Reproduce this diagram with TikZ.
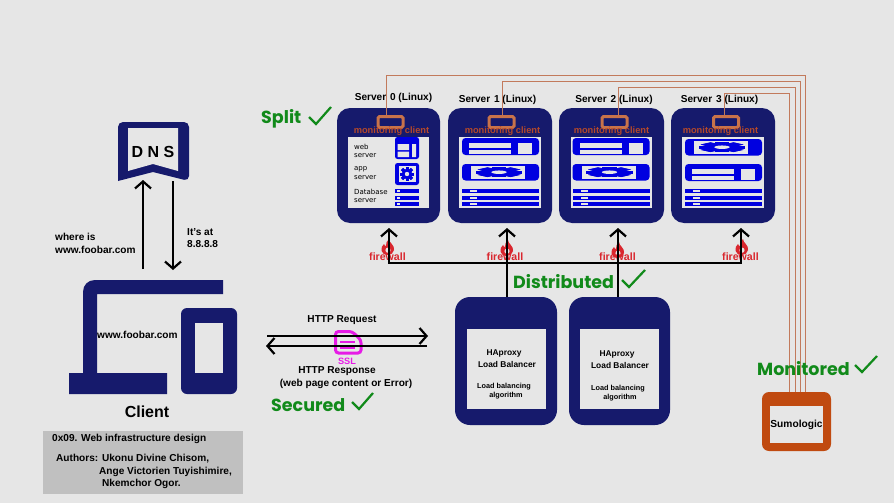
\documentclass[tikz,border=0pt]{standalone}
\usepackage{fontspec}
\usetikzlibrary{arrows.meta}
\setmainfont{Liberation Sans}
\newcommand{\medf}{\bfseries}
\newfontfamily\headf{Poppins}
\newfontfamily\smallf{DejaVu Sans}
\definecolor{bgc}{HTML}{E6E6E6}
\definecolor{navy}{HTML}{161A6C}
\definecolor{srvblue}{HTML}{0000E0}
\definecolor{wirec}{HTML}{C27A5C}
\definecolor{monc}{HTML}{C8734A}
\definecolor{mont}{HTML}{B4482A}
\definecolor{sumo}{HTML}{C04A10}
\definecolor{okgreen}{HTML}{118A1A}
\definecolor{fwred}{HTML}{D9262E}
\definecolor{sslm}{HTML}{E61AE6}
\definecolor{capg}{HTML}{C0C0C0}
\tikzset{
  navybox/.style={fill=navy,rounded corners=13pt,inner sep=0},
  panel/.style={fill=bgc,inner sep=0},
  monbox/.style={draw=monc,line width=3pt,rounded corners=1.5pt,inner sep=0,minimum width=25pt,minimum height=11pt},
  wire/.style={draw=wirec,line width=0.9pt},
  txt/.style={font=\medf\fontsize{10.1}{12}\selectfont,text=black,inner sep=0},
  small/.style={font=\medf\fontsize{8.4}{10}\selectfont,text=black,inner sep=0},
  smaller/.style={font=\medf\fontsize{7.3}{9}\selectfont,text=black,inner sep=0},
  tiny/.style={font=\smallf\fontsize{7}{9}\selectfont,text=black,inner sep=0,anchor=west},
  mont/.style={font=\medf\fontsize{9.3}{11}\selectfont,text=mont,inner sep=0},
  fw/.style={font=\medf\fontsize{10.6}{12}\selectfont,text=fwred,inner sep=0},
  head/.style={font=\headf\bfseries\fontsize{17.5}{19}\selectfont,text=okgreen,inner sep=0,anchor=west},
  tick/.style={draw=okgreen,line width=2.2pt},
  heavy/.style={draw=black,line width=2.2pt},
  arrowed/.style={heavy,-{Straight Barb[length=7pt,width=16pt,line width=2.2pt]}},
}
\newcommand{\rackA}[1]{%
  \fill[srvblue,rounded corners=3.5pt] (462,#1) rectangle (539,#1+17);
  \fill[bgc] (469,#1+5) rectangle (511,#1+10);
  \fill[bgc] (469,#1+12) rectangle (511,#1+15.5);
  \fill[bgc] (518,#1+5) rectangle (532,#1+15.5);
}
\newcommand{\rackB}[1]{%
  \fill[srvblue,rounded corners=3.5pt] (462,#1) rectangle (539,#1+16.5);
  \fill[bgc] (471,#1+2) rectangle (525,#1+14.5);
  \begin{scope}[shift={(499,#1+8.2)},xscale=3.2,yscale=0.72]
    \foreach \a in {0,45,...,315}{\fill[srvblue,rotate=\a] (-2.2,-7.3) rectangle (2.2,7.3);}
    \fill[srvblue] (0,0) circle (5.8);
    \fill[bgc] (0,0) circle (2.4);
  \end{scope}
}
\newcommand{\disks}[2]{% left, dot-left
  \foreach \yy in {189,196,202}{
    \fill[srvblue] (#1,\yy) rectangle (#1+77,\yy+4.4);
    \fill[bgc] (#2,\yy+1) rectangle (#2+7,\yy+3.2);
  }
}
\newcommand{\flame}[1]{%
  \begin{scope}[shift={(#1)}]
    \fill[fwred] (0,8) .. controls (-8,8) and (-8,0) .. (-4,-3)
      .. controls (-3.5,-1.5) and (-3,-1) .. (-2,-1)
      .. controls (-2.5,-4) and (-1,-6) .. (1,-8)
      .. controls (1,-4) and (7,-2) .. (6,3)
      .. controls (5.5,6) and (3,8) .. (0,8) -- cycle;
    \fill[bgc] (0,3.2) circle (2.6);
  \end{scope}
}
\begin{document}
\begin{tikzpicture}[x=1pt,y=-1pt]
\useasboundingbox (0,0) rectangle (894,503);
\fill[bgc] (0,0) rectangle (894,503);

% servers
\node[navybox,minimum width=103pt,minimum height=115pt] (srv0) at (388.5,165.5) {};
\node[navybox,minimum width=104pt,minimum height=115pt] (srv1) at (500,165.5) {};
\node[navybox,minimum width=105pt,minimum height=115pt] (srv2) at (611.5,165.5) {};
\node[navybox,minimum width=104pt,minimum height=115pt] (srv3) at (723,165.5) {};
\node[panel,minimum width=81pt,minimum height=71pt] (pan0) at (388.5,172.5) {};
\node[panel,minimum width=82pt,minimum height=71pt] (pan1) at (500.3,172.5) {};
\node[panel,minimum width=81pt,minimum height=71pt] (pan2) at (611.5,172.5) {};
\node[panel,minimum width=82pt,minimum height=71pt] (pan3) at (723,172.5) {};

\node[txt] (t0) at (393.5,98) {Server\hspace{1pt} 0 (Linux)};
\node[txt] (t1) at (497.5,100) {Server\hspace{1pt} 1 (Linux)};
\node[txt] (t2) at (614,100) {Server\hspace{1pt} 2 (Linux)};
\node[txt] (t3) at (719.5,100) {Server\hspace{1pt} 3 (Linux)};

% server 0 contents
\node[tiny] (a1) at (354,147) {web};
\node[tiny] (a2) at (354,155.5) {server};
\node[tiny] (a3) at (354,169) {app};
\node[tiny] (a4) at (354,178) {server};
\node[tiny] (a5) at (354,192) {Database};
\node[tiny] (a6) at (354,201) {server};
\fill[srvblue,rounded corners=2.5pt] (395,137) rectangle (419,159);
\fill[bgc] (397.5,144) rectangle (409,150) (397.5,151.5) rectangle (409,157) (412,144) rectangle (416,157);
\fill[srvblue,rounded corners=2.5pt] (395,163) rectangle (419,185);
\fill[bgc] (398.5,166) rectangle (416,182);
\begin{scope}[shift={(407,174)}]
  \foreach \a in {0,45,...,315}{\fill[srvblue,rotate=\a] (-1.5,-7) rectangle (1.5,7);}
  \fill[srvblue] (0,0) circle (5.3);
  \fill[bgc] (0,0) circle (2.2);
\end{scope}
\foreach \yy in {189,196,202}{
  \fill[srvblue] (395,\yy) rectangle (419,\yy+4.4);
  \fill[bgc] (397,\yy+1.2) rectangle (399.5,\yy+3.2);
}

% server 1-3 contents
\rackA{138}\rackB{164}\disks{462}{470}
\begin{scope}[shift={(110.5,0)}]\rackA{138}\rackB{164}\disks{462}{470}\end{scope}
\begin{scope}[shift={(223,0)}]\rackB{139}\rackA{164}\disks{462}{470}\end{scope}

% monitoring clients
\node[monbox] (mon0) at (390.5,122) {};
\node[monbox] (mon1) at (501.5,122) {};
\node[monbox] (mon2) at (614.5,122) {};
\node[monbox] (mon3) at (726,122) {};
\node[mont] (mc0) at (391.5,131.5) {monitoring client};
\node[mont] (mc1) at (502.5,131.5) {monitoring client};
\node[mont] (mc2) at (611.5,131.5) {monitoring client};
\node[mont] (mc3) at (720.5,131.5) {monitoring client};

% sumologic
\node[fill=sumo,rounded corners=7pt,inner sep=0,minimum width=69pt,minimum height=59pt] (sumo) at (796.5,421.5) {};
\node[panel,minimum width=53pt,minimum height=37pt,font=\medf\fontsize{10.2}{12}\selectfont,text=black] (sumolab) at (796.5,424.5) {Sumologic};

% monitoring wires
\coordinate (tap0) at (386,115);
\coordinate (tap1) at (502,115);
\coordinate (tap2) at (618,115);
\coordinate (tap3) at (724,115);
\coordinate (top0) at (805,75);
\coordinate (top1) at (800.5,81);
\coordinate (top2) at (795,87);
\coordinate (top3) at (789,93);
\coordinate (sum0) at (805,392);
\coordinate (sum1) at (800.5,392);
\coordinate (sum2) at (795,392);
\coordinate (sum3) at (789,392);
\foreach \i in {0,1,2,3}{\draw[wire] (tap\i) |- (top\i) -- (sum\i);}

% load balancers
\node[navybox,rounded corners=15pt,minimum width=102pt,minimum height=128pt] (lb1) at (506,361) {};
\node[navybox,rounded corners=15pt,minimum width=101pt,minimum height=128pt] (lb2) at (619.5,361) {};
\node[panel,minimum width=79pt,minimum height=80pt] (lp1) at (506.5,369) {};
\node[panel,minimum width=79pt,minimum height=80pt] (lp2) at (619.5,369) {};
\node[small] (h1) at (504,353) {HAproxy};
\node[small] (b1) at (507,364) {Load Balancer};
\node[smaller] (c1) at (504,387) {Load balancing};
\node[smaller] (d1) at (506,396) {algorithm};
\node[small] (h2) at (617,354) {HAproxy};
\node[small] (b2) at (620,365) {Load Balancer};
\node[smaller] (c2) at (618,389) {Load balancing};
\node[smaller] (d2) at (620,398) {algorithm};

% firewalls
\flame{388,247}\flame{507,248}\flame{618,250}\flame{742,247}
\node[fw] (f0) at (387.5,257) {firewall};
\node[fw] (f1) at (505,257) {firewall};
\node[fw] (f2) at (617.5,257) {firewall};
\node[fw] (f3) at (740.5,257) {firewall};
\coordinate (fw0) at (389,263);
\coordinate (fw1) at (507,263);
\coordinate (fw2) at (618,263);
\coordinate (fw3) at (741,263);
\coordinate (ar0) at (389,228);
\coordinate (ar1) at (507,228);
\coordinate (ar2) at (618,228);
\coordinate (ar3) at (741,228);
\foreach \i in {0,1,2,3}{\draw[arrowed] (fw\i) -- (ar\i);}
\draw[heavy,line cap=rect] (fw0) -- (fw3);
\draw[heavy] (fw1) -- (fw1 |- lb1.north);
\draw[heavy] (fw2) -- (fw2 |- lb2.north);

% headings
\node[head] (hsplit) at (261,118.5) {Split};
\draw[tick] (309,117) -- (316,124) -- (331,107);
\node[head] (hdist) at (513,281.5) {Distributed};
\draw[tick] (622,280) -- (629,287) -- (645,270);
\node[head] (hsec) at (271,405.5) {Secured};
\draw[tick] (352,402) -- (359,409) -- (373,393);
\node[head] (hmon) at (757,368.5) {Monitored};
\draw[tick] (855,365) -- (862,372) -- (877,356);

% DNS
\fill[navy,rounded corners=5pt] (118,181) -- (118,122) -- (189,122) -- (189,181) [sharp corners] -- (153,172) -- cycle;
\fill[bgc] (128,128) -- (178,128) -- (178,171) -- (153,164) -- (128,171) -- cycle;
\node[font=\medf\fontsize{16}{20}\selectfont,inner sep=0] (dns) at (153,152) {D N S};
\coordinate (upa) at (143,269);
\coordinate (upb) at (143,180);
\coordinate (dna) at (173,181);
\coordinate (dnb) at (173,270);
\draw[arrowed,line width=1.8pt] (upa) -- (upb);
\draw[arrowed,line width=1.8pt] (dna) -- (dnb);
\node[txt,anchor=west] (q1) at (55,237) {where is};
\node[txt,anchor=west] (q2) at (55,249.5) {www.foobar.com};
\node[txt,anchor=west] (r1) at (187,232) {It's at};
\node[txt,anchor=west] (r2) at (187,244) {8.8.8.8};

% client
\fill[navy] (223,280) -- (95,280) .. controls (88,280) and (83,285) .. (83,292) -- (83,373) -- (69,373) -- (69,394) -- (167,394) -- (167,373) -- (97,373) -- (97,294) -- (223,294) -- cycle;
\fill[navy,rounded corners=6pt] (181,308) rectangle (237,394);
\fill[bgc] (195,323) rectangle (223,373);
\node[txt,anchor=west] (url) at (97,335) {www.foobar.com};
\node[font=\medf\fontsize{16}{19}\selectfont,inner sep=0] (client) at (147,412) {Client};

% caption
\node[fill=capg,minimum width=200pt,minimum height=63pt,inner sep=0] (cap) at (143,462.5) {};
\node[txt,anchor=west] (c0) at (52,439) {0x09. Web infrastructure design};
\node[txt,anchor=west] (ca1) at (56,459) {Authors: Ukonu Divine Chisom,};
\node[txt,anchor=west] (ca2) at (99,472) {Ange Victorien Tuyishimire,};
\node[txt,anchor=west] (ca3) at (102,484) {Nkemchor Ogor.};

% HTTP
\draw[sslm,line width=3pt,rounded corners=3pt] (335.5,331.5) -- (352,331.5) -- (361,340) -- (361,353) -- (335.5,353) -- cycle;
\draw[sslm,line width=2pt] (340,342) -- (355,342) (340,348) -- (355,348);
\node[font=\medf\fontsize{9.2}{11}\selectfont,text=sslm,inner sep=0] (ssl) at (347,361.5) {SSL};
\coordinate (rqa) at (267,336);
\coordinate (rqb) at (428,336);
\coordinate (rsa) at (427,346);
\coordinate (rsb) at (266,346);
\draw[arrowed] (rqa) -- (rqb);
\draw[arrowed] (rsa) -- (rsb);
\node[txt] (hr) at (342,320) {HTTP Request};
\node[txt] (hp) at (337,371.5) {HTTP Response};
\node[txt] (wp) at (346,383.5) {(web page content or Error)};
\end{tikzpicture}
\end{document}
